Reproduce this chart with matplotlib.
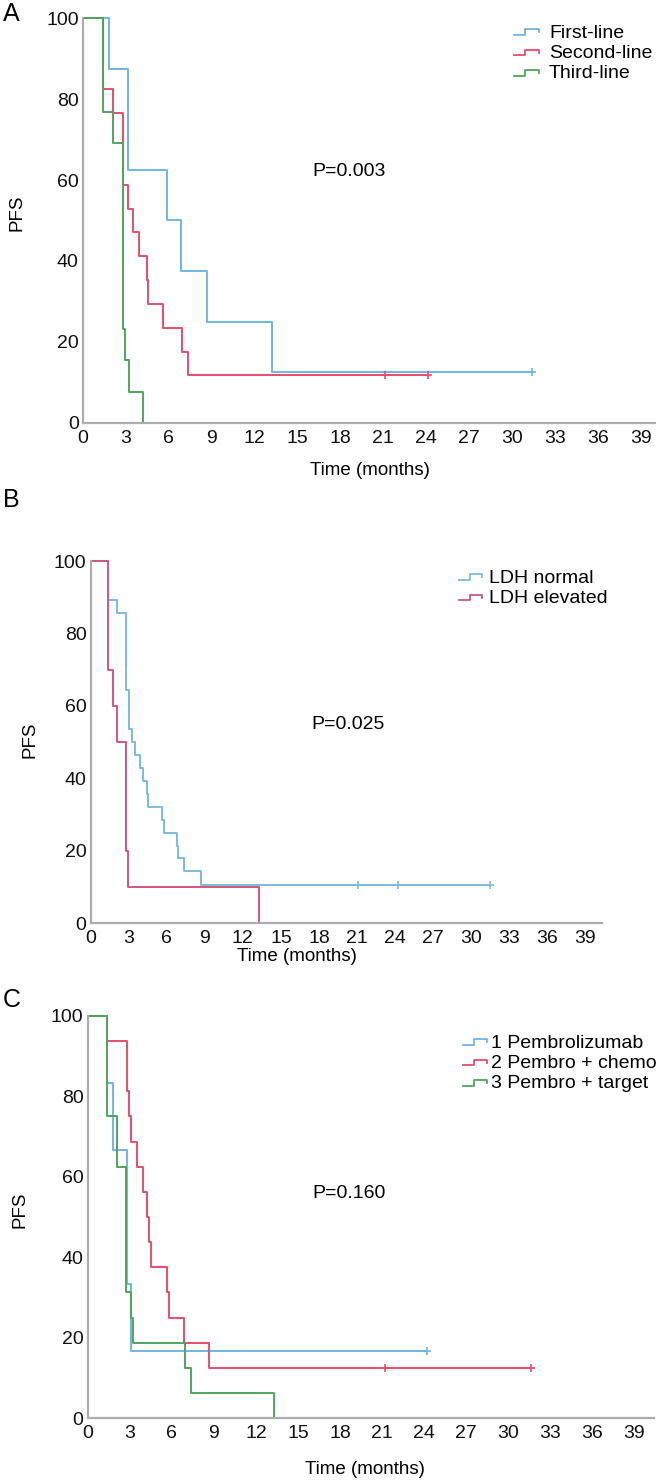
import matplotlib
matplotlib.use("Agg")
import matplotlib.pyplot as plt
from matplotlib.legend_handler import HandlerBase
from matplotlib.lines import Line2D

plt.rcParams['font.family'] = ['Liberation Sans', 'DejaVu Sans']

# Panel A - line of therapy
first_t = [0, 1.84, 3.15, 5.85, 6.83, 8.65, 13.2, 31.4]
first_s = [100, 87.5, 62.5, 50, 37.5, 25, 12.5, 12.5]
first_cens = [31.4]
second_t = [0, 1.42, 2.12, 2.82, 3.12, 3.52, 3.94, 4.45, 4.57, 5.62, 6.95, 7.37, 24.1]
second_s = [100, 82.4, 76.5, 58.8, 52.9, 47.1, 41.2, 35.3, 29.4, 23.5, 17.6, 11.8, 11.8]
second_cens = [21.1, 24.1]
third_t = [0, 1.42, 2.12, 2.82, 2.94, 3.22, 4.22]
third_s = [100, 76.9, 69.2, 23.1, 15.4, 7.7, 0]
third_cens = []

# Panel B - LDH
normal_t = [0, 1.39, 2.1, 2.79, 3.05, 3.23, 3.5, 3.89, 4.15, 4.42, 4.5, 5.6, 5.79, 6.79, 6.92, 7.37, 8.68, 31.5]
normal_s = [100, 89.3, 85.7, 64.3, 53.6, 50, 46.4, 42.9, 39.3, 35.7, 32.1, 28.6, 25, 21.4, 17.9, 14.3, 10.7, 10.7]
normal_cens = [21.1, 24.2, 31.5]
elev_t = [0, 1.39, 1.79, 2.1, 2.79, 2.92, 13.28]
elev_s = [100, 70, 60, 50, 20, 10, 0]
elev_cens = []

# Panel C - treatment
pembro_t = [0, 1.35, 1.78, 2.83, 3.09, 24.2]
pembro_s = [100, 83.3, 66.7, 33.3, 16.7, 16.7]
pembro_cens = [24.2]
chemo_t = [0, 1.35, 2.83, 2.94, 3.09, 3.54, 3.92, 4.2, 4.39, 4.51, 5.63, 5.82, 6.86, 8.67, 31.6]
chemo_s = [100, 93.75, 81.25, 75, 68.75, 62.5, 56.25, 50, 43.75, 37.5, 31.25, 25, 18.75, 12.5, 12.5]
chemo_cens = [21.2, 31.6]
target_t = [0, 1.35, 2.07, 2.75, 3.09, 3.2, 6.93, 7.34, 13.3]
target_s = [100, 75, 62.5, 31.25, 25, 18.75, 12.5, 6.25, 0]
target_cens = []

xticks = list(range(0, 40, 3))
yticks = [0, 20, 40, 60, 80, 100]

BLUE, RED, GREEN = "#6fb5e6", "#e84d6c", "#4ea65c"
BLUE_B, PINK_B = "#7dbcd8", "#d45582"
AXIS_GREY = "#adadad"
FS = 14
W, H = 656, 1483


class StepHandler(HandlerBase):
    # little step glyph like the original legend
    def create_artists(self, legend, orig, xd, yd, width, height, fontsize, trans):
        lo, hi = yd + 0.2 * height, yd + 0.6 * height
        xs = [xd, xd + 0.45 * width, xd + 0.45 * width, xd + width, xd + width]
        ys = [lo, lo, hi, hi, hi - 0.22 * height]
        ln = Line2D(xs, ys, color=orig.get_color(), lw=1.3, transform=trans)
        return [ln]


def km_panel(ax, curves, xmax):
    handles = []
    for t, s, cens, col, lab in curves:
        ln, = ax.plot(t, s, drawstyle="steps-post", color=col, lw=1.4, clip_on=False, label=lab)
        cy = [s[-1]] * len(cens)
        ax.plot(cens, cy, ls="none", marker="+", ms=6, mew=1.2, color=col, clip_on=False)
        handles.append(ln)
    ax.set_xlim(0, xmax)
    ax.set_ylim(0, 100)
    ax.set_xticks(xticks)
    ax.set_yticks(yticks)
    ax.tick_params(length=0, labelsize=FS, colors="#111111")
    ax.tick_params(axis="x", pad=5)
    ax.tick_params(axis="y", pad=3)
    for sp in ["top", "right"]:
        ax.spines[sp].set_visible(False)
    for sp in ["left", "bottom"]:
        ax.spines[sp].set_color(AXIS_GREY)
        ax.spines[sp].set_linewidth(1.6)
    return handles


def frac_axes(fig, x0, x1, y_top, y_bot):
    return fig.add_axes([x0 / W, 1 - y_bot / H, (x1 - x0) / W, (y_bot - y_top) / H])


fig = plt.figure(figsize=(6.56, 14.83), dpi=100)

# ---- A
axA = frac_axes(fig, 83, 655, 18.3, 422.7)
hA = km_panel(axA, [
    (first_t, first_s, first_cens, BLUE, "First-line"),
    (second_t, second_s, second_cens, RED, "Second-line"),
    (third_t, third_s, third_cens, GREEN, "Third-line"),
], 40)
axA.set_xlabel("Time (months)", fontsize=13.5)
axA.xaxis.set_label_coords(0.502, -0.097)
axA.set_ylabel("PFS", fontsize=13.5)
axA.yaxis.set_label_coords(-0.0997, 0.519)

# ---- B
axB = frac_axes(fig, 90.7, 601.7, 561, 923.3)
hB = km_panel(axB, [
    (normal_t, normal_s, normal_cens, BLUE_B, "LDH normal"),
    (elev_t, elev_s, elev_cens, PINK_B, "LDH elevated"),
], 40.3)
axB.set_xlabel("Time (months)", fontsize=13.5)
axB.xaxis.set_label_coords(0.404, -0.068)
axB.set_ylabel("PFS", fontsize=13.5)
axB.yaxis.set_label_coords(-0.103, 0.506)

# ---- C
axC = frac_axes(fig, 87.7, 654, 1015.7, 1418.3)
hC = km_panel(axC, [
    (pembro_t, pembro_s, pembro_cens, BLUE, "1 Pembrolizumab"),
    (chemo_t, chemo_s, chemo_cens, RED, "2 Pembro + chemo"),
    (target_t, target_s, target_cens, GREEN, "3 Pembro + target"),
], 40.4)
axC.set_xlabel("Time (months)", fontsize=13.5)
axC.xaxis.set_label_coords(0.49, -0.106)
axC.set_ylabel("PFS", fontsize=13.5)
axC.yaxis.set_label_coords(-0.105, 0.517)

# legends
for ax, hs, (lx, ly), hl, tp in [(axA, hA, (514, 24), 1.3, 0.5),
                                 (axB, hB, (459, 569), 1.2, 0.36),
                                 (axC, hC, (463, 1034), 1.25, 0.2)]:
    ax.legend(handles=hs, handler_map={Line2D: StepHandler()}, loc="upper left",
              bbox_to_anchor=(lx / W, 1 - ly / H), bbox_transform=fig.transFigure,
              frameon=False, fontsize=FS, handlelength=hl, handletextpad=tp,
              labelspacing=0.14, borderpad=0, borderaxespad=0)

# p values
fig.text(312 / W, 1 - 172 / H, "P=0.003", fontsize=FS, va="center")
fig.text(311 / W, 1 - 725 / H, "P=0.025", fontsize=FS, va="center")
fig.text(312 / W, 1 - 1193 / H, "P=0.160", fontsize=FS, va="center")

# panel letters
fig.text(3 / W, 1 - 14 / H, "A", fontsize=18, va="center")
fig.text(3 / W, 1 - 500 / H, "B", fontsize=18, va="center")
fig.text(3 / W, 1 - 1000 / H, "C", fontsize=18, va="center")

fig.savefig("out.png", dpi=100)
